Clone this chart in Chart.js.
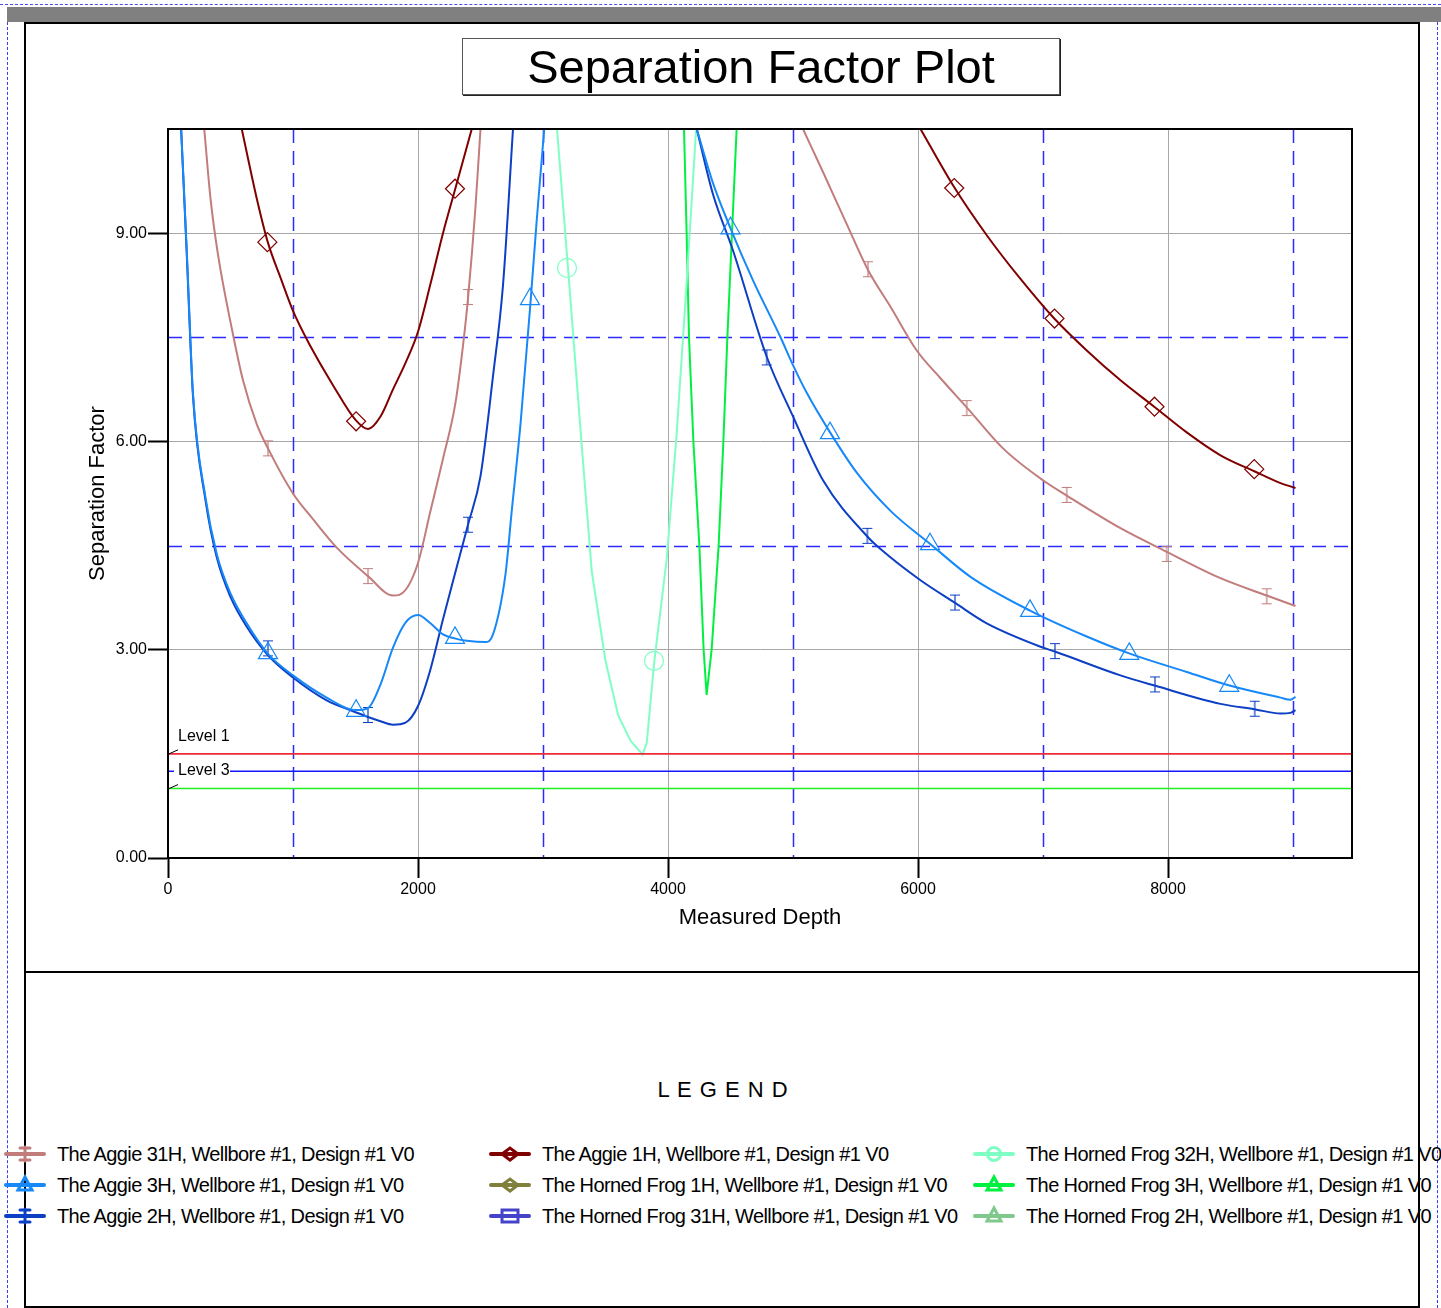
<!DOCTYPE html>
<html lang="en">
<head>
<meta charset="UTF-8" />
<title>Separation Factor Plot</title>
<script src="https://cdn.jsdelivr.net/npm/chart.js"></script>
<style>
  body { margin: 0; background: #fff; font-family: "Liberation Sans", Arial, sans-serif; }
  .page { position: relative; width: 1441px; height: 1308px; overflow: hidden; }
  .topdash { position: absolute; left: 0; top: 4px; width: 1441px; border-top: 1px dashed #4a4ae8; }
  .graybar { position: absolute; left: 7px; top: 7px; width: 1434px; height: 15px; background: #808080; }
  .vdash { position: absolute; top: 22px; height: 1286px; border-left: 1px dashed #3a3aff; }
  .box { position: absolute; left: 24px; width: 1392px; border: 2px solid #000; }
  #chartBox { top: 22px; height: 947px; }
  #legendBox { top: 971px; height: 333px; }
  #sfChart { position: absolute; left: 0; top: 0; }
  .title { position: absolute; left: 462px; top: 38px; width: 596px; height: 55px; border: 1px solid #555;
           box-shadow: 1px 1px 0 #222; background: #fff; font-size: 47px; text-align: center; line-height: 55px; }
  .legend-head { position: absolute; top: 1077px; left: 0; width: 1446px; text-align: center; font-size: 22px; letter-spacing: 1px; }
  .legend-item { position: absolute; height: 26px; line-height: 26px; font-size: 20px; letter-spacing: -0.6px; white-space: nowrap; }
  .legend-item canvas { position: absolute; left: 0; top: 0; }
  .legend-item span { position: absolute; left: 56px; top: 0; }
</style>
</head>
<body>
<div class="page">
  <div class="topdash"></div>
  <div class="graybar"></div>
  <div class="vdash" style="left:7px"></div>
  <div class="vdash" style="left:1437px"></div>
  <div class="box" id="chartBox"></div>
  <div class="box" id="legendBox"></div>
  <canvas id="sfChart" width="1441" height="972"></canvas>
  <div class="title">Separation Factor Plot</div>
  <div class="legend-head">L E G E N D</div>
  <div id="legend"></div>
</div>

<script>
// series as they appear in the legend (column by column)
const seriesNames = [
  'The Aggie 31H, Wellbore #1, Design #1 V0',
  'The Aggie 3H, Wellbore #1, Design #1 V0',
  'The Aggie 2H, Wellbore #1, Design #1 V0',
  'The Aggie 1H, Wellbore #1, Design #1 V0',
  'The Horned Frog 1H, Wellbore #1, Design #1 V0',
  'The Horned Frog 31H, Wellbore #1, Design #1 V0',
  'The Horned Frog 32H, Wellbore #1, Design #1 V0',
  'The Horned Frog 3H, Wellbore #1, Design #1 V0',
  'The Horned Frog 2H, Wellbore #1, Design #1 V0'
];
const seriesColors = ['#c27c7c', '#1688f8', '#0d3fc4', '#800000', '#80803c', '#4444c8', '#80ffc4', '#00f040', '#80c88c'];
const seriesMarkers = ['ibeam', 'triangle', 'ibeam', 'diamond', 'diamond', 'square', 'circle', 'triangle', 'triangle'];
const seriesSmooth = [true, true, true, true, false, false, false, false, false];

// separation factor vs measured depth (null = curve leaves the plot)
const aggie31Depth = [290, 340, 400, 510, 600, 710, 800, 1000, 1160, 1350, 1600, 1800, 1900, 2000, 2100, 2200, 2300, 2360, 2400, 2460, 2500,
  3800, 5080, 5240, 5430, 5600, 5780, 5990, 6180, 6400, 6680, 7000, 7190, 7620, 7990, 8420, 8790, 9020];
const aggie31SF = [10.5, 9.5, 8.69, 7.63, 6.88, 6.25, 5.9, 5.25, 4.88, 4.47, 4.06, 3.78, 3.86, 4.25, 5.0, 5.75, 6.56, 7.38, 8.06, 9.38, 10.5,
  null, 10.5, 9.88, 9.13, 8.47, 7.94, 7.31, 6.91, 6.47, 5.9, 5.44, 5.22, 4.75, 4.41, 4.03, 3.78, 3.63];

const aggie3Depth = [105, 150, 200, 300, 390, 500, 630, 800, 1000, 1270, 1500, 1600, 1700, 1800, 1900, 2000, 2100, 2200, 2300, 2390, 2540, 2600, 2700, 2750, 2820, 2900, 2950, 3010,
  3600, 4230, 4360, 4500, 4680, 4900, 5000, 5110, 5300, 5510, 5780, 6100, 6420, 6900, 7350, 7700, 8150, 8500, 8900, 8980, 9020];
const aggie3SF = [10.5, 8.75, 6.69, 5.19, 4.38, 3.81, 3.38, 2.94, 2.63, 2.31, 2.13, 2.16, 2.5, 3.03, 3.39, 3.5, 3.38, 3.22, 3.16, 3.13, 3.11, 3.22, 4.09, 5.0, 6.25, 8.0, 9.19, 10.5,
  null, 10.5, 9.72, 9.07, 8.32, 7.5, 7.1, 6.7, 6.12, 5.55, 5.0, 4.52, 4.05, 3.56, 3.19, 2.94, 2.68, 2.48, 2.31, 2.28, 2.32];

const aggie2Depth = [105, 150, 200, 300, 390, 500, 630, 800, 1000, 1270, 1500, 1600, 1700, 1800, 1900, 2000, 2100, 2200, 2310, 2400, 2500, 2600, 2680, 2760,
  3600, 4230, 4360, 4520, 4790, 5000, 5240, 5600, 5700, 6020, 6300, 6550, 7000, 7100, 7620, 7900, 8420, 8700, 8900, 8980, 9020];
const aggie2SF = [10.5, 8.7, 6.65, 5.15, 4.33, 3.76, 3.33, 2.92, 2.6, 2.27, 2.1, 2.03, 1.97, 1.92, 1.95, 2.19, 2.72, 3.44, 4.19, 4.8, 5.5, 6.94, 8.25, 10.5,
  null, 10.5, 9.56, 8.75, 7.22, 6.36, 5.44, 4.62, 4.45, 4.0, 3.67, 3.38, 3.03, 2.97, 2.63, 2.48, 2.22, 2.14, 2.08, 2.09, 2.13];

const aggie1Depth = [590, 710, 800, 900, 1000, 1140, 1320, 1500, 1600, 1700, 1800, 1900, 2000, 2100, 2200, 2300, 2430,
  4000, 6020, 6290, 6550, 6820, 7090, 7350, 7620, 7890, 8150, 8420, 8690, 8900, 9020];
const aggie1SF = [10.5, 9.5, 8.86, 8.36, 7.88, 7.37, 6.81, 6.31, 6.18, 6.36, 6.75, 7.13, 7.58, 8.27, 9.0, 9.65, 10.5,
  null, 10.5, 9.66, 8.97, 8.34, 7.77, 7.31, 6.88, 6.5, 6.13, 5.8, 5.57, 5.4, 5.33];

const frog32Depth = [3112, 3200, 3243, 3310, 3390, 3500, 3600, 3700, 3797, 3830, 3890, 3990, 4070, 4150, 4225];
const frog32SF = [10.5, 8.5, 7.5, 5.94, 4.13, 2.84, 2.06, 1.69, 1.49, 1.66, 2.83, 4.31, 6.13, 8.31, 10.5];

const frog3Depth = [4128, 4149, 4168, 4203, 4251, 4285, 4309, 4349, 4405, 4443, 4475, 4512, 4549];
const frog3SF = [10.5, 9.0, 7.5, 6.0, 4.5, 3.0, 2.35, 3.0, 4.5, 6.0, 7.5, 9.0, 10.5];

// marker stations
const aggie31MarkDepth = [800, 1600, 2400, 5600, 6390, 7190, 7990, 8790];
const aggie31MarkSF = [5.9, 4.06, 8.08, 8.48, 6.48, 5.23, 4.38, 3.77];
const aggie3MarkDepth = [800, 1505, 2296, 2896, 4500, 5296, 6096, 6896, 7690, 8490];
const aggie3MarkSF = [2.95, 2.12, 3.17, 8.05, 9.07, 6.12, 4.52, 3.56, 2.94, 2.48];
const aggie2MarkDepth = [800, 1600, 2400, 4790, 5595, 6296, 7096, 7896, 8694];
const aggie2MarkSF = [3.02, 2.06, 4.8, 7.21, 4.64, 3.68, 2.98, 2.5, 2.15];
const aggie1MarkDepth = [795, 1505, 2296, 6290, 7092, 7892, 8690];
const aggie1MarkSF = [8.87, 6.29, 9.64, 9.65, 7.77, 6.5, 5.6];
const frog32MarkDepth = [3192, 3888];
const frog32MarkSF = [8.5, 2.84];

// warning levels
const levelNames = ['Level 1', 'Level 3', ''];
const levelSF = [1.5, 1.25, 1.0];
const levelColors = ['#ee2a3a', '#1515ff', '#22ee22'];
const levelSpan = [0, 9472];

// axes
const depthRange = [0, 9472];
const sfRange = [0, 10.5];
const depthTicks = [0, 2000, 4000, 6000, 8000];
const sfTicks = [0, 3, 6, 9];
const depthDashed = [1000, 3000, 5000, 7000, 9000];
const sfDashed = [4.5, 7.5];

const curves = [
  [aggie31Depth, aggie31SF, aggie31MarkDepth, aggie31MarkSF],
  [aggie3Depth, aggie3SF, aggie3MarkDepth, aggie3MarkSF],
  [aggie2Depth, aggie2SF, aggie2MarkDepth, aggie2MarkSF],
  [aggie1Depth, aggie1SF, aggie1MarkDepth, aggie1MarkSF],
  [[], [], [], []],
  [[], [], [], []],
  [frog32Depth, frog32SF, frog32MarkDepth, frog32MarkSF],
  [frog3Depth, frog3SF, [], []],
  [[], [], [], []]
];

const FONT = '"Liberation Sans", Arial, sans-serif';
Chart.defaults.font.family = FONT;
Chart.defaults.color = '#000';

function pairs(xs, ys) {
  return xs.map((x, i) => ({ x: x, y: ys[i] }));
}

function ibeamCanvas(color) {
  const c = document.createElement('canvas');
  c.width = 12; c.height = 18;
  const g = c.getContext('2d');
  g.strokeStyle = color; g.lineWidth = 1.2;
  g.beginPath();
  g.moveTo(6, 1); g.lineTo(6, 17);
  g.moveTo(1, 1.5); g.lineTo(11, 1.5);
  g.moveTo(1, 16.5); g.lineTo(11, 16.5);
  g.stroke();
  return c;
}

function pointStyleFor(kind, color) {
  if (kind === 'ibeam') return { style: ibeamCanvas(color), r: 9 };
  if (kind === 'triangle') return { style: 'triangle', r: 11 };
  if (kind === 'diamond') return { style: 'rectRot', r: 9.5 };
  if (kind === 'square') return { style: 'rect', r: 9 };
  return { style: 'circle', r: 9.5 };
}

const datasets = [];
levelSF.forEach((v, i) => {
  datasets.push({
    label: levelNames[i], data: pairs(levelSpan, [v, v]), showLine: true,
    borderColor: levelColors[i], borderWidth: 1.6, pointRadius: 0
  });
});
curves.forEach((c, i) => {
  const color = seriesColors[i];
  const ps = pointStyleFor(seriesMarkers[i], color);
  datasets.push({
    label: seriesNames[i], data: pairs(c[0], c[1]), showLine: true, spanGaps: false,
    borderColor: color, borderWidth: 2, pointRadius: 0,
    cubicInterpolationMode: seriesSmooth[i] ? 'monotone' : 'default', tension: 0
  });
  datasets.push({
    label: seriesNames[i] + ' markers', data: pairs(c[2], c[3]), showLine: false,
    pointStyle: ps.style, pointRadius: ps.r, pointBorderColor: color,
    pointBackgroundColor: 'rgba(255,255,255,0)', pointBorderWidth: 1.2
  });
});

const guides = {
  id: 'guides',
  beforeDatasetsDraw(chart) {
    const { ctx, chartArea: a, scales: { x, y } } = chart;
    ctx.save();
    ctx.strokeStyle = '#2b2bff';
    ctx.lineWidth = 1.5;
    ctx.setLineDash([14, 8]);
    depthDashed.forEach(v => {
      const px = Math.round(x.getPixelForValue(v)) + 0.5;
      ctx.beginPath(); ctx.moveTo(px, a.top); ctx.lineTo(px, a.bottom); ctx.stroke();
    });
    sfDashed.forEach(v => {
      const py = Math.round(y.getPixelForValue(v)) + 0.5;
      ctx.beginPath(); ctx.moveTo(a.left, py); ctx.lineTo(a.right, py); ctx.stroke();
    });
    ctx.restore();
  },
  afterDatasetsDraw(chart) {
    const { ctx, chartArea: a, scales: { y } } = chart;
    ctx.save();
    // level labels with little leader ticks
    ctx.font = '16px ' + FONT;
    ctx.textBaseline = 'middle';
    levelSF.forEach((v, i) => {
      const py = y.getPixelForValue(v);
      ctx.strokeStyle = '#000'; ctx.lineWidth = 1;
      if (i === 1) {
        ctx.fillStyle = '#fff';
        ctx.fillRect(a.left + 6, py - 9, 56, 18);
        ctx.fillStyle = '#000';
        ctx.fillText(levelNames[i], a.left + 10, py - 1);
      } else {
        ctx.beginPath(); ctx.moveTo(a.left + 1, py); ctx.lineTo(a.left + 10, py - 4); ctx.stroke();
        if (levelNames[i]) {
          ctx.fillStyle = '#000';
          ctx.fillText(levelNames[i], a.left + 10, py - 17);
        }
      }
    });
    // plot frame
    ctx.strokeStyle = '#000';
    ctx.lineWidth = 2;
    ctx.strokeRect(a.left, a.top, a.right - a.left, a.bottom - a.top);
    ctx.restore();
  }
};

new Chart(document.getElementById('sfChart'), {
  type: 'scatter',
  data: { datasets: datasets },
  plugins: [guides],
  options: {
    responsive: false,
    animation: false,
    devicePixelRatio: 1,
    layout: { padding: { left: 0, top: 129, right: 89, bottom: 0 } },
    plugins: { legend: { display: false }, tooltip: { enabled: false } },
    scales: {
      x: {
        type: 'linear', min: depthRange[0], max: depthRange[1],
        afterBuildTicks: s => { s.ticks = depthTicks.map(v => ({ value: v })); },
        afterFit: s => { s.height = 114; },
        grid: { color: '#a8a8a8', lineWidth: 1, tickLength: 20, tickColor: '#000', tickWidth: 2 },
        border: { color: '#000', width: 2 },
        ticks: { color: '#000', font: { size: 16 }, padding: 2, maxRotation: 0, autoSkip: false, callback: v => String(v) },
        title: { display: true, text: 'Measured Depth', color: '#000', font: { size: 22 }, padding: { top: 0, bottom: 41 } }
      },
      y: {
        type: 'linear', min: sfRange[0], max: sfRange[1],
        afterBuildTicks: s => { s.ticks = sfTicks.map(v => ({ value: v })); },
        afterFit: s => { s.width = 168; },
        grid: { color: '#a8a8a8', lineWidth: 1, tickLength: 20, tickColor: '#000', tickWidth: 2 },
        border: { color: '#000', width: 2 },
        ticks: { color: '#000', font: { size: 16 }, padding: 1, autoSkip: false, callback: v => v.toFixed(2) },
        title: { display: true, text: 'Separation Factor', color: '#000', font: { size: 22 }, padding: { top: 85, bottom: 0 } }
      }
    }
  }
});

// html legend, three columns
function drawGlyph(g, kind, color, cx, cy) {
  g.strokeStyle = color;
  g.lineWidth = 4;
  g.lineCap = 'round';
  g.beginPath(); g.moveTo(cx - 19, cy); g.lineTo(cx + 19, cy); g.stroke();
  g.lineWidth = 3;
  g.beginPath();
  if (kind === 'ibeam') {
    g.moveTo(cx, cy - 7); g.lineTo(cx, cy + 7);
    g.moveTo(cx - 5, cy - 6); g.lineTo(cx + 5, cy - 6);
    g.moveTo(cx - 5, cy + 6); g.lineTo(cx + 5, cy + 6);
  } else if (kind === 'triangle') {
    g.moveTo(cx, cy - 8); g.lineTo(cx + 7, cy + 5); g.lineTo(cx - 7, cy + 5); g.closePath();
  } else if (kind === 'diamond') {
    g.moveTo(cx - 8, cy); g.lineTo(cx, cy - 6); g.lineTo(cx + 8, cy); g.lineTo(cx, cy + 6); g.closePath();
  } else if (kind === 'square') {
    g.rect(cx - 8, cy - 6, 16, 12);
  } else {
    g.arc(cx, cy, 6.5, 0, Math.PI * 2);
  }
  g.stroke();
}

const legendTextLeft = [57, 542, 1026];
const legendRowY = [1154, 1185, 1216];
const legendEl = document.getElementById('legend');
seriesNames.forEach((name, i) => {
  const col = Math.floor(i / 3), row = i % 3;
  const item = document.createElement('div');
  item.className = 'legend-item';
  item.style.left = (legendTextLeft[col] - 56) + 'px';
  item.style.top = (legendRowY[row] - 13) + 'px';
  const c = document.createElement('canvas');
  c.width = 48; c.height = 26;
  drawGlyph(c.getContext('2d'), seriesMarkers[i], seriesColors[i], 24, 13);
  const t = document.createElement('span');
  t.textContent = name;
  item.appendChild(c);
  item.appendChild(t);
  legendEl.appendChild(item);
});
</script>
</body>
</html>
